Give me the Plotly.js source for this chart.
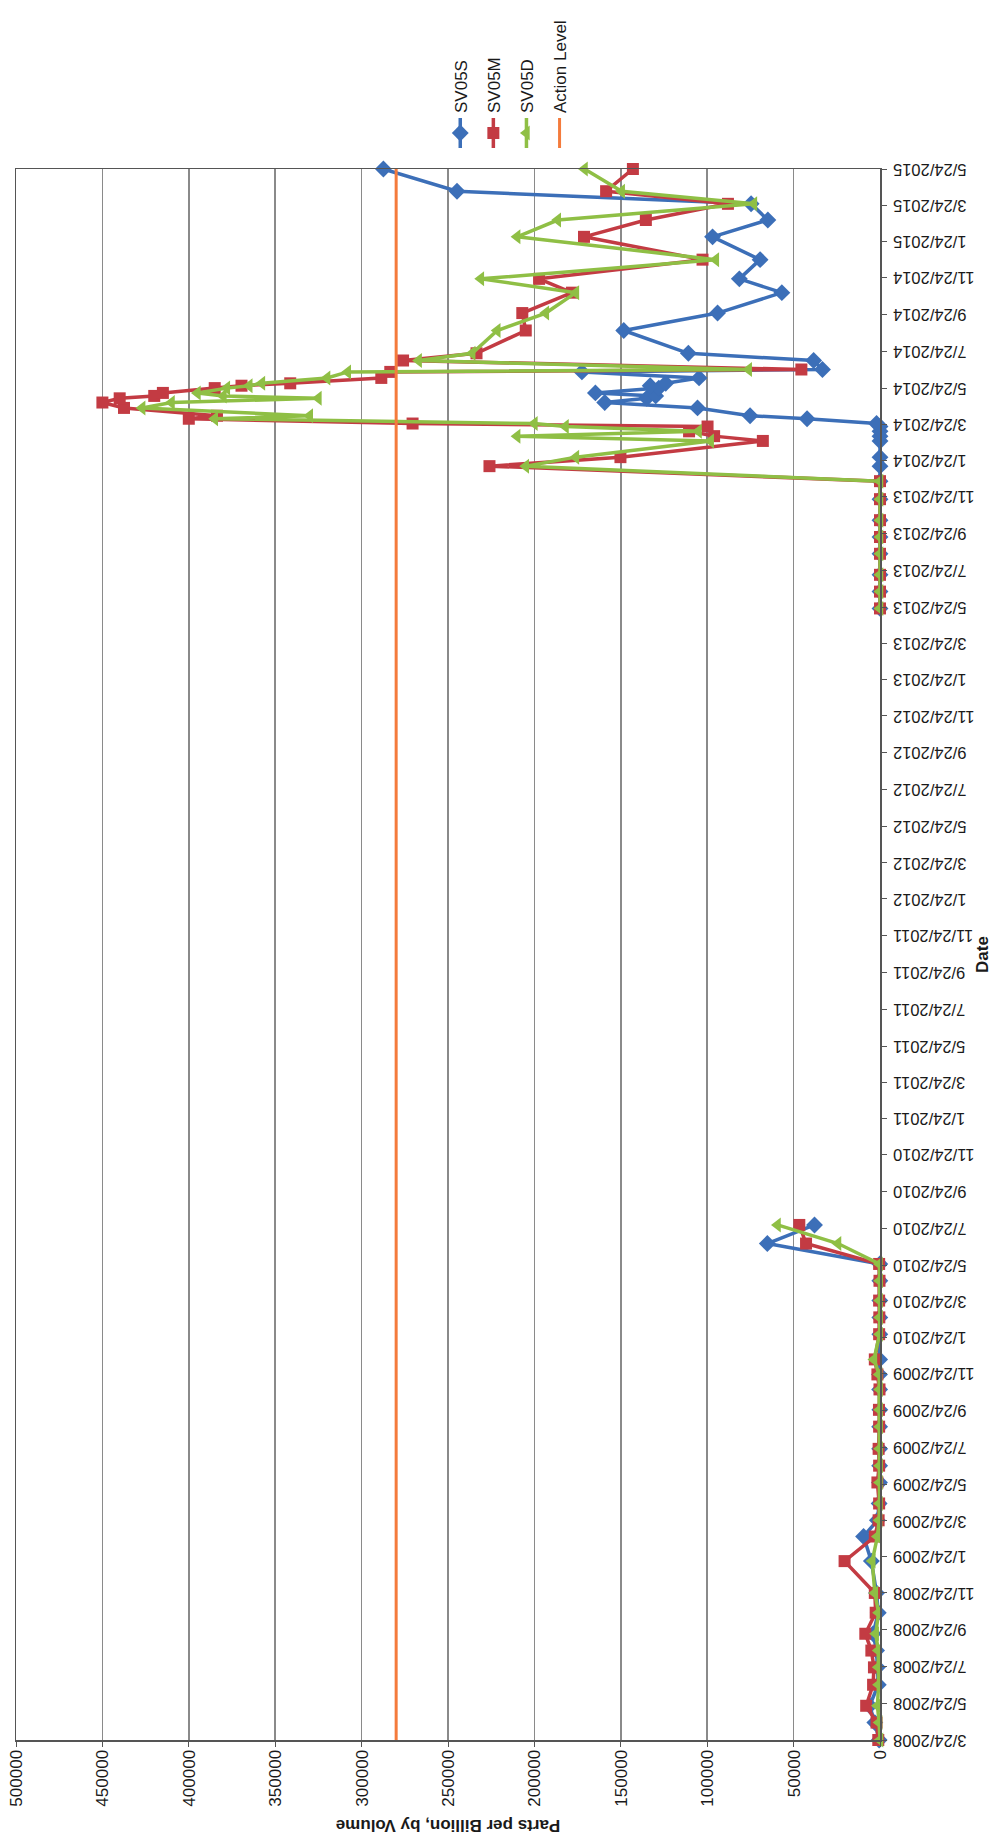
<!DOCTYPE html>
<html>
<head>
<meta charset="utf-8">
<script src="https://cdn.plot.ly/plotly-3.0.1.min.js"></script>
<style>
html,body{margin:0;padding:0;overflow:hidden;background:#fff;width:1008px;height:1843px;}
#chart{position:absolute;left:0;top:0;width:1843px;height:1008px;transform-origin:0 0;transform:translateY(1843px) rotate(-90deg);}
</style>
</head>
<body>
<div id="chart"></div>
<script>
// Sampling dates (shared by the three wells); null row breaks the line (no data 2010-2013)
const dates = [
 '2008-03-24','2008-04-22','2008-05-20','2008-06-24','2008-07-23','2008-08-20','2008-09-17','2008-10-22','2008-11-24',
 '2009-01-16','2009-02-26','2009-03-25','2009-04-22','2009-05-27','2009-06-24','2009-07-22','2009-08-28','2009-09-25',
 '2009-10-29','2009-11-23','2009-12-18','2010-01-29','2010-02-26','2010-03-26','2010-04-28','2010-05-26','2010-06-29',
 '2010-07-30','2012-01-01',
 '2013-05-22','2013-06-19','2013-07-17','2013-08-21','2013-09-18','2013-10-16','2013-11-20','2013-12-20',
 '2014-01-14','2014-01-29','2014-02-25','2014-03-05','2014-03-13','2014-03-21','2014-03-26','2014-04-03','2014-04-08',
 '2014-04-21','2014-04-30','2014-05-07','2014-05-11','2014-05-16','2014-05-24','2014-05-28','2014-06-01','2014-06-10',
 '2014-06-20','2014-06-24','2014-07-09','2014-07-21','2014-08-28','2014-09-26','2014-10-30','2014-11-22','2014-12-24',
 '2015-01-31','2015-02-28','2015-03-27','2015-04-17','2015-05-24'
];
const sv05s = [
 500,3000,6000,1000,1500,2000,4000,1000,2000,
 5000,9500,1500,500,300,200,200,200,100,
 200,300,200,100,100,100,100,100,65200,
 37900,null,
 0,0,0,0,0,0,0,0,
 0,0,0,0,0,0,2000,42200,75200,
 105600,159300,135000,129800,164700,128000,133000,124000,104700,
 172500,33300,38400,110900,148300,94000,56800,81400,69400,
 96900,64900,74600,244800,287400
];
const sv05m = [
 1000,2000,8000,4000,3500,5000,8500,2500,3000,
 20500,3000,800,500,1500,500,800,500,600,
 300,1500,3000,500,400,500,300,500,42800,
 46700,null,
 0,0,0,0,0,0,0,0,
 226000,150200,67800,96000,110500,99800,270500,400000,383700,
 437500,450000,440000,420000,415000,385000,369500,341300,288600,
 283400,45500,276000,233500,205000,207000,178300,197300,102700,
 171300,135500,88000,158500,143000
];
const sv05d = [
 0,500,1500,800,1000,1000,2500,800,3000,
 4500,1500,500,300,300,200,200,200,200,
 200,500,3500,200,200,200,200,300,24300,
 59300,null,
 0,0,0,0,0,0,0,0,
 205000,176000,98000,210000,105000,182000,200000,385000,330000,
 427000,410000,325000,380000,395000,378000,365000,357700,320000,
 308000,76000,267000,236000,221500,193400,176000,231000,95000,
 210000,186500,73000,149500,171000
];
const actionDates = ['2008-03-24','2015-05-24'];
const actionValues = [280000,280000];
const seriesNames = ['SV05S','SV05M','SV05D','Action Level'];

const blue = '#3C6FB8', red = '#C33B43', green = '#8FBF45', orange = '#F47B3C';

const traces = [
 {type:'scatter', mode:'lines+markers', name:seriesNames[0], x:dates, y:sv05s, cliponaxis:false, legendgroup:'a',
  line:{color:blue, width:3.5}, marker:{symbol:'diamond', size:13, color:blue}},
 {type:'scatter', mode:'lines+markers', name:seriesNames[1], x:dates, y:sv05m, cliponaxis:false, legendgroup:'b',
  line:{color:red, width:3.5}, marker:{symbol:'square', size:12, color:red}},
 {type:'scatter', mode:'lines+markers', name:seriesNames[2], x:dates, y:sv05d, cliponaxis:false, legendgroup:'c',
  line:{color:green, width:3.5}, marker:{symbol:'triangle-up', size:13, color:green}},
 {type:'scatter', mode:'lines', name:seriesNames[3], x:actionDates, y:actionValues, legendgroup:'d',
  line:{color:orange, width:3}}
];

const layout = {
 width:1843, height:1008,
 margin:{l:103, r:169, t:16, b:128, pad:0},
 paper_bgcolor:'#ffffff', plot_bgcolor:'#ffffff',
 font:{family:'"Liberation Sans", Arial, sans-serif', size:17, color:'#1a1a1a'},
 showlegend:true,
 legend:{x:1.0102, xanchor:'left', y:0.428, yanchor:'middle', font:{size:17}, itemwidth:30,
   bgcolor:'rgba(0,0,0,0)', tracegroupgap:8},
 xaxis:{type:'date', range:['2008-03-24','2015-05-24'], tick0:'2008-03-24', dtick:'M2',
   tickformat:'%-m/%-d/%Y', tickangle:-90, ticks:'outside', ticklen:5, tickcolor:'#555',
   showgrid:false, zeroline:false, showline:true, linecolor:'#555', linewidth:1.5, mirror:true,
   tickfont:{size:16.5},
   title:{text:'Date', font:{size:17, weight:700}, standoff:0}},
 yaxis:{range:[0,500000], tick0:0, dtick:50000, tickformat:'d', ticks:'outside', ticklen:5, tickcolor:'#555',
   showgrid:true, gridcolor:'#8a8a8a', gridwidth:1.5, zeroline:false,
   showline:true, linecolor:'#555', linewidth:1.5, mirror:true,
   title:{text:'Parts per Billion, by Volume', font:{size:17, weight:700}, standoff:8}}
};

Plotly.newPlot('chart', traces, layout, {displayModeBar:false, staticPlot:true});
</script>
</body>
</html>
